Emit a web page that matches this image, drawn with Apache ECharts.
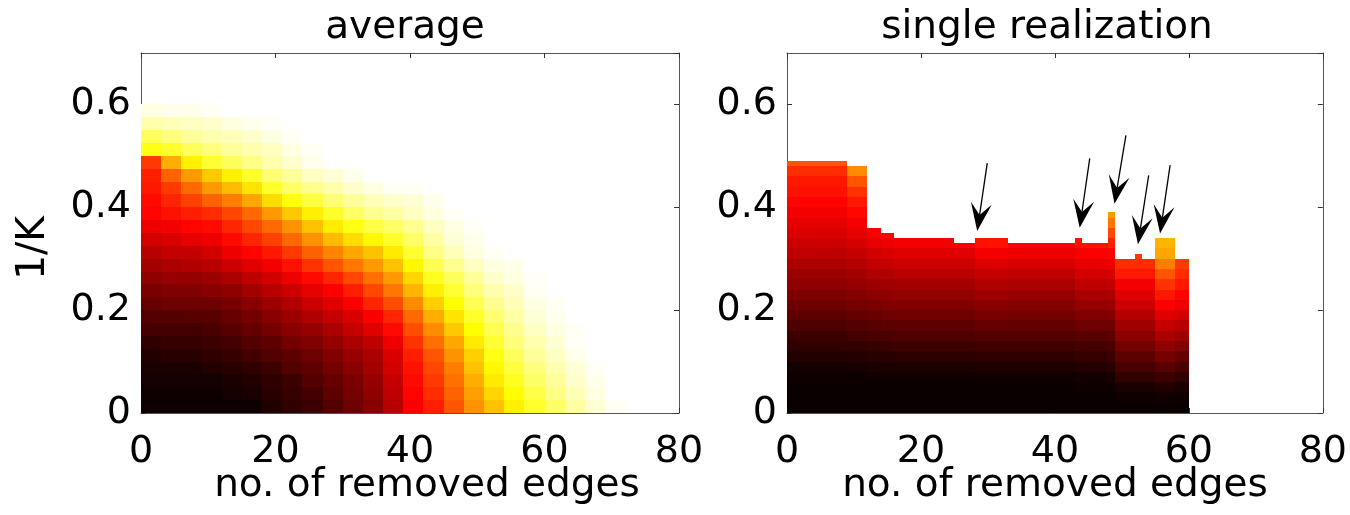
<!DOCTYPE html>
<html>
<head>
<meta charset="utf-8">
<title>average / single realization</title>
<script src="https://cdn.jsdelivr.net/npm/echarts@6/dist/echarts.min.js"></script>
<style>
  html, body { margin: 0; padding: 0; background: #fff; }
  #main { width: 1350px; height: 515px; }
</style>
</head>
<body>
<div id="main"></div>
<script>
// ---- left panel ("average"): cells are 3 edges wide and 0.025 of 1/K tall.
// values on the hot scale 0..100 (0 black, 37.5 red, 75 yellow, 100 white);
// each row runs from x=0 and stops where the plot turns white.
const avgXEdges = [0, 3, 6, 9, 12, 15, 18, 21, 24, 27, 30, 33, 36, 39, 42, 45, 48, 51, 54, 57, 60, 63, 66, 69, 72, 75];
const avgYEdges = [0, 0.025, 0.05, 0.075, 0.1, 0.125, 0.15, 0.175, 0.2, 0.225, 0.25, 0.275,
                   0.3, 0.325, 0.35, 0.375, 0.4, 0.425, 0.45, 0.475, 0.5, 0.525, 0.55, 0.575, 0.6];
const avgRows = [
  [2, 2, 2, 2, 2, 2, 5, 7, 9, 12, 16, 20, 27, 37, 42, 50, 59, 66, 73, 79, 85, 91, 96, 99],
  [2, 2, 2, 2, 3, 4, 6, 8, 10, 14, 17, 21, 28, 38, 44, 52, 61, 69, 75, 82, 88, 93, 97],
  [3, 3, 3, 3, 4, 5, 7, 9, 12, 15, 18, 22, 29, 39, 46, 54, 63, 72, 78, 85, 90, 95, 98],
  [4, 4, 4, 5, 6, 7, 9, 12, 14, 17, 20, 24, 31, 40, 48, 56, 66, 74, 81, 87, 92, 96, 99],
  [5, 6, 6, 7, 8, 10, 12, 14, 16, 19, 22, 25, 32, 42, 50, 59, 68, 77, 84, 90, 94, 98],
  [7, 8, 8, 9, 10, 12, 14, 17, 19, 22, 25, 28, 35, 45, 54, 62, 72, 80, 87, 92, 96, 99],
  [10, 10, 10, 11, 13, 15, 17, 20, 22, 25, 29, 33, 39, 49, 58, 67, 75, 83, 89, 94, 97, 99],
  [12, 12, 13, 13, 15, 17, 20, 23, 26, 29, 32, 37, 43, 53, 63, 71, 79, 86, 91, 96, 98],
  [15, 16, 16, 16, 18, 20, 23, 26, 30, 33, 37, 43, 49, 58, 68, 75, 83, 89, 93, 97, 99],
  [18, 19, 19, 20, 21, 24, 27, 30, 34, 37, 42, 48, 55, 64, 73, 80, 87, 92, 95, 99],
  [21, 22, 22, 23, 25, 28, 31, 35, 39, 43, 48, 54, 60, 69, 78, 84, 90, 95, 97, 99],
  [24, 25, 26, 27, 30, 33, 36, 40, 45, 50, 55, 60, 66, 74, 83, 89, 94, 97, 98],
  [27, 29, 29, 31, 35, 38, 41, 46, 52, 57, 62, 66, 72, 80, 88, 93, 97, 99],
  [31, 32, 34, 35, 39, 43, 47, 53, 59, 65, 70, 74, 79, 85, 91, 96, 98],
  [35, 36, 38, 39, 43, 48, 53, 59, 66, 72, 77, 82, 85, 89, 94, 97, 99],
  [38, 40, 42, 44, 48, 53, 60, 67, 73, 79, 85, 89, 91, 94, 97, 99],
  [39, 43, 47, 52, 56, 62, 70, 76, 81, 86, 90, 93, 95, 96, 98],
  [41, 46, 53, 60, 65, 71, 79, 85, 89, 92, 95, 97, 99, 99],
  [42, 52, 60, 67, 73, 79, 86, 90, 94, 96, 98],
  [46, 63, 73, 80, 84, 88, 92, 95, 98],
  [77, 79, 84, 87, 90, 92, 94, 97, 99],
  [84, 87, 90, 92, 93, 95, 97, 99],
  [92, 93, 94, 95, 97, 98, 99],
  [97, 98, 98, 99]
];

// ---- right panel ("single realization"): vertical strips between these edges,
// each with its own top (1/K) and a colour profile in rows of 0.02, bottom to top.
const realXEdges = [0, 9, 12, 14, 16, 25, 28, 33, 43, 44, 48, 49, 52, 53, 55, 58, 60];
const realTops = [0.49, 0.48, 0.36, 0.35, 0.34, 0.33, 0.34, 0.33, 0.34, 0.33, 0.39, 0.30, 0.31, 0.30, 0.34, 0.30];
const realRowStep = 0.02;
const realProfiles = [
  [1.5, 1.5, 1.5, 2, 3, 5, 7, 9, 11.5, 13.5, 16, 18.5, 21, 23, 25.5, 28, 30, 32, 34, 36, 38, 40, 41, 44, 50],
  [1.5, 1.5, 1.5, 2, 3.5, 5.5, 7.5, 10, 12, 14.5, 17, 19.5, 22, 24, 26.5, 29, 31.5, 34, 36, 38.5, 41, 45, 50, 58],
  [1.5, 1.5, 1.5, 2.5, 4, 6, 8, 10.5, 13, 15.5, 18, 20.5, 23, 26, 28.5, 31, 34, 37],
  [1.5, 1.5, 1.5, 2.5, 4, 6, 8.5, 11, 13.5, 16, 18.5, 21, 23.5, 26, 29, 32, 35, 38],
  [1.5, 1.5, 1.5, 2.5, 4, 6.5, 9, 11.5, 14, 16.5, 19, 21.5, 24, 27, 30, 33, 36],
  [1.5, 1.5, 1.5, 2.5, 4, 6.5, 9, 11.5, 14, 16.5, 19, 21.5, 24, 27, 30, 33, 37],
  [1.5, 1.5, 1.5, 2.5, 4.5, 7, 9.5, 12, 15, 17.5, 20, 23, 26, 29, 32.5, 36, 40],
  [1.5, 1.5, 1.5, 2.5, 4.5, 7, 9.5, 12, 14.5, 17, 19.5, 22, 25, 28, 31.5, 35, 38],
  [1.5, 1.5, 2, 3, 5.5, 8, 10.5, 13, 16, 19, 22, 25, 28, 31, 34, 37, 40],
  [1.5, 1.5, 2, 3, 5.5, 8, 10.5, 13, 16, 19, 22, 25, 28, 31, 34, 37, 40],
  [1.5, 1.5, 2, 3.5, 6, 8.5, 11, 13.5, 16.5, 19.5, 22.5, 25.5, 28.5, 31.5, 35, 38, 42, 48, 55, 60],
  [1.5, 2, 4, 7.5, 10.5, 13.5, 17, 20.5, 23.5, 26.5, 30, 33, 36, 41, 44],
  [1.5, 2, 4, 7.5, 10.5, 13.5, 17, 20.5, 23.5, 26.5, 30, 33, 36, 41, 44, 46],
  [1.5, 2, 4, 7.5, 10.5, 13.5, 17, 20.5, 23.5, 26.5, 30, 33, 36, 41, 44],
  [1.5, 2.5, 5, 9, 13, 17, 21, 25, 29, 33, 37, 41, 45, 50, 56, 62, 64],
  [1.5, 2, 4, 7.5, 11, 15, 19, 23, 27, 31, 35, 38, 41, 44, 46]
];

// arrows in the right panel: tail and tip in data units (edges, 1/K)
const arrowTails = [[29.9, 0.486], [45.2, 0.495], [50.6, 0.54], [54.0, 0.462], [57.2, 0.482]];
const arrowTips = [[28.4, 0.354], [43.7, 0.36], [48.9, 0.407], [52.4, 0.328], [55.7, 0.349]];

const titles = ['average', 'single realization'];
const xName = 'no. of removed edges';
const yName = '1/K';

// matlab "hot" colormap
const hotColors = ['#000000', '#550000', '#aa0000', '#ff0000', '#ff5500', '#ffaa00', '#ffff00', '#ffff80', '#ffffff'];

const FONT = 'DejaVu Sans';

// cell rows: [x0, x1, y0, y1, value]
const avgCells = [];
avgRows.forEach(function (row, r) {
  row.forEach(function (v, c) {
    avgCells.push([avgXEdges[c], avgXEdges[c + 1], avgYEdges[r], avgYEdges[r + 1], v]);
  });
});

const realCells = [];
realProfiles.forEach(function (prof, b) {
  prof.forEach(function (v, i) {
    const y0 = i * realRowStep;
    const y1 = Math.min((i + 1) * realRowStep, realTops[b]);
    realCells.push([realXEdges[b], realXEdges[b + 1], y0, y1, v]);
  });
});

function renderCell(params, api) {
  const a = api.coord([api.value(0), api.value(3)]);
  const b = api.coord([api.value(1), api.value(2)]);
  const x = Math.round(a[0]), y = Math.round(a[1]);
  return {
    type: 'rect',
    shape: { x: x, y: y, width: Math.round(b[0]) - x, height: Math.round(b[1]) - y },
    style: { fill: api.visual('color') }
  };
}

function xAx(grid, pos) {
  return {
    type: 'value', gridIndex: grid, position: pos, min: 0, max: 80, interval: 20,
    axisLine: { show: true, onZero: false, lineStyle: { color: '#555', width: 1 } },
    axisTick: { show: true, inside: true, length: 5, lineStyle: { color: '#333' } },
    axisLabel: { show: pos === 'bottom', margin: 20, fontSize: 38, fontFamily: FONT, color: '#000' },
    splitLine: { show: false }
  };
}
function yAx(grid, pos) {
  return {
    type: 'value', gridIndex: grid, position: pos, min: 0, max: 0.7, interval: 0.2,
    axisLine: { show: true, onZero: false, lineStyle: { color: '#555', width: 1 } },
    axisTick: { show: true, inside: true, length: 5, lineStyle: { color: '#333' } },
    axisLabel: { show: pos === 'left', showMaxLabel: false, margin: 10, fontSize: 38, fontFamily: FONT, color: '#000' },
    splitLine: { show: false }
  };
}

const chart = echarts.init(document.getElementById('main'));
chart.setOption({
  animation: false,
  backgroundColor: '#fff',
  grid: [
    { left: 141, top: 53, width: 538, height: 360 },
    { left: 787, top: 53, width: 540, height: 360 }
  ],
  xAxis: [xAx(0, 'bottom'), xAx(0, 'top'), xAx(1, 'bottom'), xAx(1, 'top')],
  yAxis: [yAx(0, 'left'), yAx(0, 'right'), yAx(1, 'left'), yAx(1, 'right')],
  visualMap: {
    type: 'continuous', show: false, min: 0, max: 100, dimension: 4, seriesIndex: [0, 1],
    inRange: { color: hotColors }
  },
  series: [
    {
      type: 'custom', xAxisIndex: 0, yAxisIndex: 0, renderItem: renderCell,
      encode: { x: [0, 1], y: [2, 3] }, data: avgCells, silent: true
    },
    {
      type: 'custom', xAxisIndex: 2, yAxisIndex: 2, renderItem: renderCell,
      encode: { x: [0, 1], y: [2, 3] }, data: realCells, silent: true
    }
  ]
});

// titles, axis names and arrows
const textStyle = function (t) {
  return { text: t, font: '39px "' + FONT + '"', fill: '#000',
           align: 'center', verticalAlign: 'middle', textAlign: 'center', textVerticalAlign: 'middle' };
};
const els = [
  { type: 'text', x: 405, y: 28, style: textStyle(titles[0]) },
  { type: 'text', x: 1047, y: 28, style: textStyle(titles[1]) },
  { type: 'text', x: 427, y: 486, style: textStyle(xName) },
  { type: 'text', x: 1055, y: 486, style: textStyle(xName) },
  { type: 'text', x: 34, y: 248, rotation: Math.PI / 2, style: textStyle(yName) }
];

arrowTails.forEach(function (t, i) {
  const p0 = chart.convertToPixel({ gridIndex: 1 }, t);
  const p1 = chart.convertToPixel({ gridIndex: 1 }, arrowTips[i]);
  const dx = p1[0] - p0[0], dy = p1[1] - p0[1];
  const len = Math.sqrt(dx * dx + dy * dy);
  const ux = dx / len, uy = dy / len, nx = -uy, ny = ux;
  const L = 28, W = 10.5, N = 16;
  els.push({
    type: 'line',
    shape: { x1: p0[0], y1: p0[1], x2: p1[0] - ux * N, y2: p1[1] - uy * N },
    style: { stroke: '#000', lineWidth: 1.3 }
  });
  els.push({
    type: 'polygon',
    shape: { points: [
      [p1[0], p1[1]],
      [p1[0] - ux * L + nx * W, p1[1] - uy * L + ny * W],
      [p1[0] - ux * N, p1[1] - uy * N],
      [p1[0] - ux * L - nx * W, p1[1] - uy * L - ny * W]
    ] },
    style: { fill: '#000' }
  });
});

chart.setOption({ graphic: { elements: els } });
</script>
</body>
</html>
